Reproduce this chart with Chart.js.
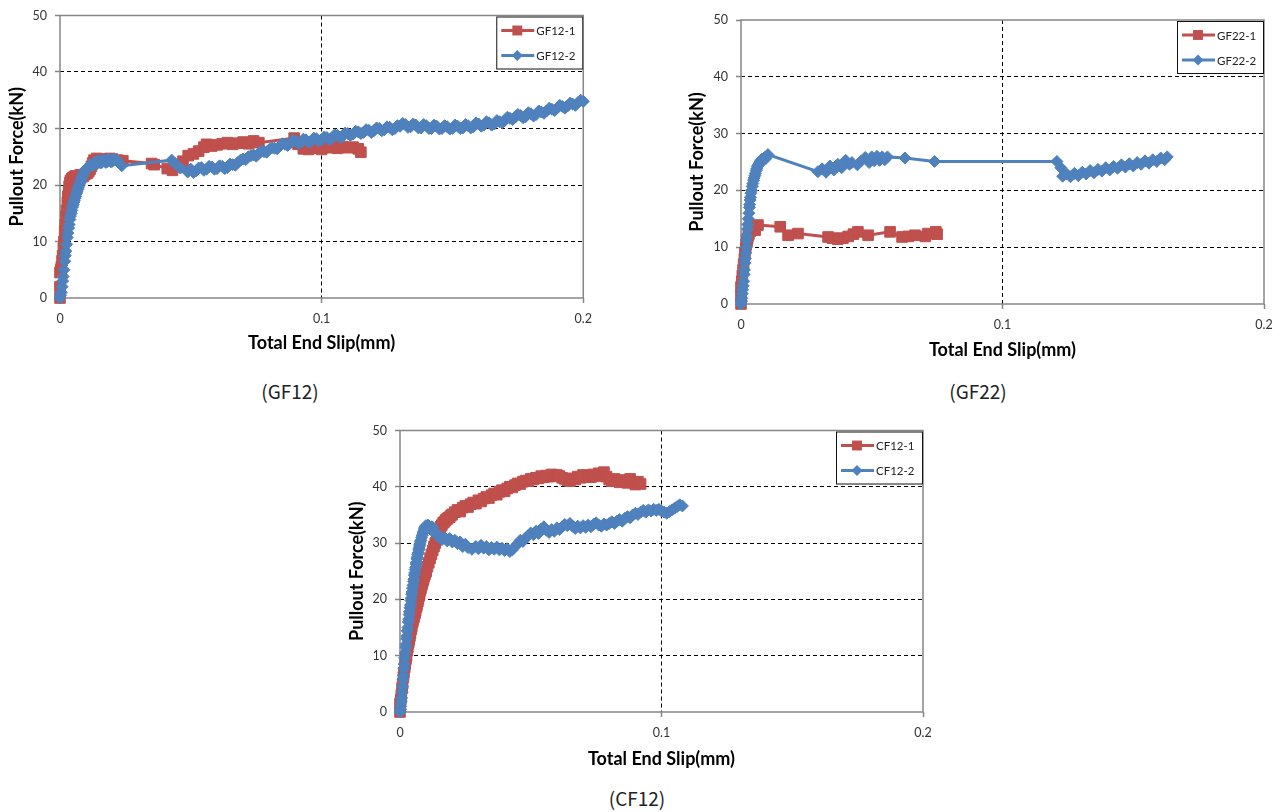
<!DOCTYPE html>
<html>
<head>
<meta charset="utf-8">
<script src="https://cdn.jsdelivr.net/npm/chart.js@4.4.1/dist/chart.umd.min.js"></script>
<style>
  html, body { margin: 0; padding: 0; background: #fff; }
  body { width: 1285px; height: 812px; position: relative; overflow: hidden; }
  .panel { position: absolute; }
  .caption {
    position: absolute;
    font-family: 'Noto Sans CJK KR', 'Noto Sans', sans-serif;
    font-size: 19px;
    color: #222;
    transform: translate(-50%, -50%);
    white-space: nowrap;
  }
</style>
</head>
<body>
<div class="panel" style="left:0px;top:0px"><canvas id="gf12" width="600" height="360"></canvas></div>
<div class="panel" style="left:680px;top:0px"><canvas id="gf22" width="605" height="372"></canvas></div>
<div class="panel" style="left:340px;top:415px"><canvas id="cf12" width="620" height="362"></canvas></div>
<div class="caption" style="left:290px;top:390px">(GF12)</div>
<div class="caption" style="left:978px;top:390px">(GF22)</div>
<div class="caption" style="left:637px;top:797px">(CF12)</div>

<script>
// axis ticks and titles
const xTicks = [0, 0.1, 0.2];
const yTicks = [0, 10, 20, 30, 40, 50];
const xTitle = 'Total End Slip(mm)';
const yTitle = 'Pullout Force(kN)';

// series labels
const gf12Names = ['GF12-1', 'GF12-2'];
const gf22Names = ['GF22-1', 'GF22-2'];
const cf12Names = ['CF12-1', 'CF12-2'];

// [slip (mm), force (kN)]
const gf12_1 = [
  [0,0],[0,2],[0,4.5],[0.0003,5],[0.0005,5.5],[0.0008,6.6],[0.001,7.5],[0.0013,8.8],[0.0015,10],
  [0.0018,11.8],[0.002,13],[0.0023,14.5],[0.0025,15.5],[0.0028,17],[0.003,18],[0.0033,19],
  [0.0035,19.8],[0.0038,20.4],[0.004,20.8],[0.0045,21.1],[0.005,21.3],[0.0055,21.5],[0.006,21.6],
  [0.0065,21.3],[0.007,21.4],[0.0075,21.7],[0.008,21.8],[0.0085,21.5],[0.009,21.6],[0.0095,21.9],
  [0.010,22],[0.0105,22.1],[0.011,22.4],[0.0115,22.8],[0.012,23.3],[0.0125,23.9],[0.013,24.4],
  [0.014,24.7],[0.015,24.5],[0.016,24.6],[0.017,24.4],[0.018,24.5],[0.019,24.7],
  [0.020,24.6],[0.022,24.4],[0.024,24.3],[0.035,23.8],[0.036,23.6],[0.041,22.9],[0.043,22.6],
  [0.045,23.2],[0.047,24.2],[0.049,25.2],[0.051,25.5],[0.053,26.0],[0.055,26.7],[0.056,27.2],
  [0.058,26.9],[0.060,27.1],[0.062,27.3],[0.064,27.5],[0.066,27.2],[0.068,27.4],[0.070,27.6],
  [0.072,27.3],[0.074,27.8],[0.076,27.5],[0.0895,28.3],[0.091,27.2],[0.093,26.4],[0.095,26.3],
  [0.097,26.5],[0.100,26.3],[0.102,26.6],[0.104,26.9],[0.106,26.5],[0.108,26.8],[0.110,26.6],
  [0.112,26.7],[0.114,26.4],[0.115,25.8]
];
const gf12_2 = [
  [0,0],[0.0002,0.5],[0.0005,1],[0.0008,2],[0.001,3],[0.0012,3.8],[0.0015,5],[0.0018,6.5],
  [0.002,7.5],[0.0022,8.3],[0.0025,9.5],[0.0028,10.7],[0.003,11.5],[0.0033,12.4],[0.0035,13],
  [0.0038,13.9],[0.004,14.5],[0.0043,15],[0.0045,15.5],[0.0048,16.1],[0.005,16.5],[0.0053,17],
  [0.0055,17.3],[0.0058,17.7],[0.006,18],[0.0063,18.5],[0.0065,18.8],[0.0068,19.2],[0.007,19.5],
  [0.0073,19.9],[0.0075,20.2],[0.0078,20.5],[0.008,20.8],[0.0083,21.2],[0.0085,21.5],[0.0088,21.8],
  [0.009,22],[0.0093,22.3],[0.0095,22.5],[0.0098,22.7],[0.010,22.8],[0.0105,23.1],[0.011,23.2],
  [0.0115,23.5],[0.012,23.6],[0.0125,23.4],[0.013,23.9],[0.0135,24.1],[0.014,23.7],[0.0145,24.3],
  [0.015,24.2],[0.0155,23.9],[0.016,24],[0.0165,24.5],[0.017,24.4],[0.0175,24],[0.018,24.1],
  [0.0185,24.6],[0.019,24.5],[0.0195,24.1],[0.020,24.2],[0.0205,24.6],[0.021,24.5],[0.022,24.3],
  [0.0236,23.4],[0.0427,24.4],[0.044,23.8],
  [0.046,23],[0.0488,22.3],[0.050,22.8],[0.051,22.2],[0.052,22.5],[0.053,23],[0.054,23.1],
  [0.055,22.6],[0.056,22.8],[0.057,23.3],[0.058,23.2],[0.059,22.8],[0.060,22.9],[0.061,23.4],
  [0.062,23.3],[0.063,22.9],[0.064,23.1],[0.065,23.7],[0.066,23.6],[0.067,23.5],[0.068,24],
  [0.069,24.4],[0.070,24.6],[0.071,24.5],[0.072,25],[0.073,25.2],[0.074,25.3],[0.075,25.1],
  [0.076,25.6],[0.077,26],[0.078,25.9],[0.079,25.8],[0.080,26.3],[0.081,26.6],[0.082,26.5],
  [0.083,26.4],[0.084,26.9],[0.085,27.3],[0.086,27.2],[0.087,27],[0.088,27.4],[0.089,27.9],
  [0.090,27.8],[0.091,27.4],[0.092,27.5],[0.093,28.1],[0.094,28],[0.095,27.6],[0.096,27.7],
  [0.097,28.3],[0.098,28.2],[0.099,27.8],[0.100,28],[0.101,28.5],[0.102,28.4],[0.103,28],
  [0.104,28.3],[0.105,28.9],[0.106,28.8],[0.107,28.4],[0.108,28.6],[0.109,29.2],[0.110,29.1],
  [0.111,28.8],[0.112,29],[0.113,29.5],[0.114,29.4],[0.115,29.1],[0.116,29.3],[0.117,29.8],
  [0.118,29.7],[0.119,29.3],[0.120,29.6],[0.121,30.1],[0.122,30],[0.123,29.6],[0.124,29.8],
  [0.125,30.3],[0.126,30.2],[0.127,29.8],[0.128,30],[0.129,30.5],[0.130,30.4],[0.131,30.9],
  [0.132,30.7],[0.133,30.2],[0.134,30.3],[0.135,30.8],[0.136,30.6],[0.137,30.1],[0.138,30.1],
  [0.139,30.7],[0.140,30.5],[0.141,30],[0.142,30],[0.143,30.6],[0.144,30.4],[0.145,29.9],
  [0.146,30],[0.147,30.5],[0.148,30.3],[0.149,29.9],[0.150,30],[0.151,30.6],[0.152,30.4],
  [0.153,30],[0.154,30.1],[0.155,30.7],[0.156,30.5],[0.157,30.1],[0.158,30.3],[0.159,31],
  [0.160,30.8],[0.161,30.4],[0.162,30.6],[0.163,31.2],[0.164,31],[0.165,30.6],[0.166,30.8],
  [0.167,31.4],[0.168,31.2],[0.169,31],[0.170,31.4],[0.171,32],[0.172,31.8],[0.173,31.6],
  [0.174,32],[0.175,32.5],[0.176,32.3],[0.177,31.9],[0.178,32.1],[0.179,32.8],[0.180,32.6],
  [0.181,32.2],[0.182,32.5],[0.183,33.1],[0.184,32.9],[0.185,32.7],[0.186,33.1],[0.187,33.6],
  [0.188,33.4],[0.189,33.2],[0.190,33.6],[0.191,34.1],[0.192,33.9],[0.193,33.6],[0.194,34],
  [0.195,34.5],[0.196,34.3],[0.197,34.1],[0.198,34.6],[0.199,35],[0.200,34.8]
];
const gf22_1 = [
  [0,0],[0,1.5],[0,3],[0.0003,4],[0.0005,5],[0.0008,6],[0.001,7],[0.0013,8],[0.0015,9],
  [0.0018,9.8],[0.002,10.5],[0.0023,11],[0.0025,11.5],[0.0028,12],[0.003,12.3],
  [0.0035,12.8],[0.004,13.2],[0.0045,13.5],[0.0054,13],[0.0065,13.9],[0.015,13.6],[0.018,12.1],
  [0.0218,12.4],[0.0333,11.8],[0.035,11.6],[0.037,11.4],[0.039,11.6],[0.041,11.9],[0.043,12.3],
  [0.0447,12.7],[0.0486,12.1],[0.057,12.7],[0.0616,11.8],[0.064,11.9],[0.0665,12.1],
  [0.0705,11.9],[0.0715,12.4],[0.0745,12.7],[0.075,12.3]
];
const gf22_2 = [
  [0,0],[0.0002,0.5],[0.0003,1],[0.0005,1.8],[0.0006,2.5],[0.0008,3.2],[0.001,4],[0.0012,5.2],
  [0.0013,6],[0.0015,7.2],[0.0016,8],[0.0018,9],[0.002,10],[0.0022,11.2],[0.0023,12],
  [0.0025,13.2],[0.0026,14],[0.0028,15],[0.003,16],[0.0032,17],[0.0033,17.5],[0.0035,18.3],
  [0.0036,18.8],[0.0038,19.5],[0.004,20],[0.0043,20.7],[0.0045,21.2],[0.0048,21.8],[0.005,22.2],
  [0.0053,22.6],[0.0055,23],[0.0058,23.5],[0.006,23.8],[0.0063,24.2],[0.0065,24.4],[0.0068,24.6],
  [0.007,24.8],[0.0073,25],[0.0075,25.2],[0.0078,25.4],[0.008,25.5],[0.0085,25.3],
  [0.009,25.8],[0.0095,25.6],[0.0103,26.3],[0.0294,23.3],[0.031,23.8],[0.0325,23.2],[0.034,24.3],
  [0.0355,23.6],[0.037,24.6],[0.0385,24],[0.040,25.3],[0.0415,24.6],[0.0424,24.9],[0.0445,24.5],
  [0.046,25.2],[0.0475,25.8],[0.049,24.9],[0.050,25.9],[0.051,25.2],[0.052,26],[0.053,25.3],
  [0.054,25.9],[0.055,25.4],[0.056,25.9],[0.0627,25.7],[0.074,25.1],[0.1208,25.1],[0.1223,24],
  [0.123,22.5],[0.1245,22.9],[0.126,22.4],[0.1275,23],[0.129,22.6],[0.1305,23.2],[0.132,22.9],
  [0.1335,23.5],[0.135,23.1],[0.1365,23.7],[0.138,23.4],[0.1395,24],[0.141,23.6],[0.1425,24.2],
  [0.144,23.9],[0.1455,24.5],[0.147,24.1],[0.1485,24.7],[0.150,24.3],[0.1515,24.9],[0.153,24.6],
  [0.1545,25.2],[0.156,24.8],[0.1575,25.4],[0.159,25.1],[0.1605,25.7],[0.162,25.4],[0.163,25.9]
];
const cf12_1 = [
  [0,0],[0,1.5],[0.0003,2.2],[0.0005,3],[0.0008,4.2],[0.001,5],[0.0013,6.2],[0.0015,7],
  [0.0018,7.9],[0.002,8.5],[0.0023,9.4],[0.0025,10],[0.0028,10.9],[0.003,11.5],[0.0033,12.3],
  [0.0035,12.8],[0.0038,13.5],[0.004,14],[0.0043,14.7],[0.0045,15.2],[0.0048,15.9],[0.005,16.3],
  [0.0053,16.8],[0.0055,17.2],[0.0058,17.6],[0.006,18],[0.0063,18.6],[0.0065,19],[0.0068,19.6],
  [0.007,20],[0.0073,20.6],[0.0075,21],[0.0078,21.6],[0.008,22],[0.0083,22.5],[0.0085,22.8],
  [0.0088,23.3],[0.009,23.6],[0.0093,24.1],[0.0095,24.4],[0.0098,24.8],[0.010,25],
  [0.0105,25.8],[0.011,26.5],[0.0115,27.3],[0.012,28],[0.0125,28.7],[0.013,29.4],[0.0135,30],
  [0.014,31],[0.0145,31.8],[0.015,32.5],[0.0155,32.9],[0.016,33.2],[0.0165,33.6],[0.017,33.8],
  [0.0175,34.1],[0.018,34.3],[0.0185,34.5],[0.019,34.6],[0.0195,34.9],
  [0.020,35.1],[0.021,35.5],[0.022,35.9],[0.023,35.6],[0.024,36.3],[0.025,36.6],[0.026,36.4],
  [0.027,36.9],[0.028,37.2],[0.029,37],[0.030,37.6],[0.031,37.4],[0.032,37.9],[0.033,38.2],
  [0.034,38],[0.035,38.5],[0.036,38.8],[0.037,38.6],[0.038,39.1],[0.039,39.4],[0.040,39.2],
  [0.041,39.7],[0.042,40],[0.043,39.9],[0.044,40.3],[0.045,40.6],[0.046,40.5],[0.047,40.9],
  [0.048,41.1],[0.049,41],[0.050,41.4],[0.051,41.3],[0.052,41.6],[0.053,41.5],[0.054,41.9],
  [0.055,41.7],[0.056,42],[0.057,41.8],[0.058,42.2],[0.059,42],[0.060,42.1],[0.061,41.9],
  [0.062,41.6],[0.063,41.4],[0.064,41.2],[0.065,41],[0.066,41.5],[0.067,41.3],[0.068,41.8],
  [0.069,41.6],[0.070,42.1],[0.071,41.8],[0.072,42],[0.073,41.7],[0.074,42.2],[0.075,41.9],
  [0.076,42.4],[0.077,42.1],[0.078,42.6],[0.079,41.8],[0.080,41.3],[0.081,41],[0.082,41.4],
  [0.083,41.1],[0.084,40.8],[0.085,41.2],[0.086,40.9],[0.087,40.7],[0.088,41.4],[0.089,40.8],
  [0.090,40.4],[0.091,40.9],[0.092,40.5]
];
const cf12_2 = [
  [0,0],[0.0002,0.5],[0.0003,1],[0.0005,1.8],[0.0006,2.5],[0.0008,3.5],[0.001,4.5],[0.0012,5.7],
  [0.0013,6.5],[0.0015,7.7],[0.0016,8.5],[0.0018,9.6],[0.002,10.5],[0.0022,11.5],[0.0023,12],
  [0.0025,13],[0.0026,13.5],[0.0028,14.4],[0.003,15],[0.0032,16],[0.0033,16.5],[0.0035,17.3],
  [0.0036,17.8],[0.0038,18.5],[0.004,19],[0.0042,19.8],[0.0043,20.2],[0.0045,20.9],[0.0046,21.3],
  [0.0048,22],[0.005,22.5],[0.0052,23.2],[0.0053,23.6],[0.0055,24.3],[0.0056,24.7],[0.0058,25.3],
  [0.006,25.7],[0.0062,26.3],[0.0063,26.6],[0.0065,27.2],[0.0066,27.5],[0.0068,28],[0.007,28.3],
  [0.0072,28.8],[0.0073,29.1],[0.0075,29.5],[0.0076,29.8],[0.0078,30.2],[0.008,30.5],
  [0.0083,31],[0.0085,31.4],[0.0088,31.8],[0.009,32.1],[0.0093,32.5],[0.0095,32.8],[0.0099,33.1],
  [0.0103,32.6],[0.0107,33.2],[0.011,33],[0.0114,32.6],[0.0118,32.4],[0.0122,32.9],[0.0125,32.8],
  [0.013,32.2],[0.0135,31.9],[0.014,31.6],[0.0145,31.2],[0.015,31],[0.016,30.6],
  [0.017,31],[0.018,30.4],[0.019,30.8],[0.020,30.2],[0.021,30.5],[0.022,29.9],[0.023,30.2],
  [0.024,29.4],[0.025,29.8],[0.026,29.2],[0.0275,28.9],[0.029,29.4],[0.030,29],[0.031,29.6],
  [0.032,29.1],[0.033,29.4],[0.034,28.8],[0.035,29.2],[0.036,28.9],[0.037,29.3],[0.038,28.8],
  [0.039,29.1],[0.040,28.7],[0.041,29],[0.042,28.5],[0.043,28.8],[0.044,29.4],[0.045,29.9],
  [0.046,30.5],[0.047,30.3],[0.048,30.9],[0.049,31.3],[0.050,31.8],[0.051,31.5],[0.052,32.1],
  [0.053,31.7],[0.054,32.5],[0.055,32.9],[0.056,32.3],[0.057,31.9],[0.058,32.4],[0.059,32.1],
  [0.060,32.7],[0.061,32.4],[0.062,32.9],[0.063,33.3],[0.064,33.1],[0.065,33.5],[0.066,33],
  [0.067,32.6],[0.068,33],[0.069,32.7],[0.070,33.1],[0.071,32.8],[0.072,33.2],[0.073,32.9],
  [0.074,33.3],[0.075,33.6],[0.076,33.2],[0.077,33],[0.078,33.4],[0.079,33.2],[0.080,33.5],
  [0.081,33.8],[0.082,33.5],[0.083,33.9],[0.084,34.2],[0.085,33.9],[0.086,34.4],[0.087,34.7],
  [0.088,34.5],[0.089,35],[0.090,35.3],[0.091,35.1],[0.092,35.5],[0.093,35.8],[0.094,35.5],
  [0.095,35.9],[0.096,35.7],[0.097,36],[0.098,35.8],[0.099,36],[0.100,35.7],[0.101,35.5],
  [0.102,35.3],[0.103,35.6],[0.104,35.9],[0.105,36.2],[0.106,36.5],[0.107,36.8],[0.108,36.6]
];

const RED = '#C0504D';
const BLUE = '#4F81BD';
const AXIS_GRAY = '#868686';

Chart.defaults.font.family = 'Lato, "Liberation Sans", sans-serif';
Chart.defaults.color = '#333';

// solid frame around the plot area (Excel style)
const framePlugin = {
  id: 'frame',
  beforeDatasetsDraw(chart) {
    const { ctx, chartArea: a } = chart;
    ctx.save();
    ctx.strokeStyle = AXIS_GRAY;
    ctx.lineWidth = 1.5;
    ctx.strokeRect(a.left, a.top, a.right - a.left, a.bottom - a.top);
    ctx.restore();
  }
};

function drawMarker(ctx, style, x, y, r, color) {
  ctx.fillStyle = color;
  ctx.beginPath();
  if (style === 'rect') {
    const s = r * Math.SQRT1_2;
    ctx.rect(x - s, y - s, 2 * s, 2 * s);
  } else {
    ctx.moveTo(x - r, y);
    ctx.lineTo(x, y - r);
    ctx.lineTo(x + r, y);
    ctx.lineTo(x, y + r);
    ctx.closePath();
  }
  ctx.fill();
}

// boxed legend inside the plot, top right
const boxLegend = {
  id: 'boxLegend',
  afterDraw(chart) {
    const { ctx, chartArea: a } = chart;
    const w = 87, h = 53;
    const bx = a.right - w, by = a.top + 1;
    ctx.save();
    ctx.fillStyle = '#fff';
    ctx.fillRect(bx, by, w, h);
    ctx.strokeStyle = '#111';
    ctx.lineWidth = 1;
    ctx.strokeRect(bx + 0.5, by + 0.5, w - 1, h - 1);
    chart.data.datasets.forEach((ds, i) => {
      const yy = by + 14 + i * 25;
      ctx.strokeStyle = ds.borderColor;
      ctx.lineWidth = 3;
      ctx.beginPath();
      ctx.moveTo(bx + 5, yy);
      ctx.lineTo(bx + 38, yy);
      ctx.stroke();
      drawMarker(ctx, ds.pointStyle, bx + 21, yy, ds.pointRadius - 0.5, ds.backgroundColor);
      ctx.fillStyle = '#222';
      ctx.font = '11.5px Lato, "Liberation Sans", sans-serif';
      ctx.textBaseline = 'middle';
      ctx.textAlign = 'left';
      ctx.fillText(ds.label, bx + 40, yy + 1);
    });
    ctx.restore();
  }
};

function toXY(arr) {
  return arr.map(p => ({ x: p[0], y: p[1] }));
}

function drawPanel(id, names, s1, s2, box) {
  const xMax = xTicks[xTicks.length - 1];
  const yMax = yTicks[yTicks.length - 1];
  new Chart(document.getElementById(id), {
    type: 'line',
    data: {
      datasets: [
        {
          label: names[0],
          data: toXY(s1),
          borderColor: RED,
          backgroundColor: RED,
          borderWidth: 3,
          pointStyle: 'rect',
          pointRadius: 7.5,
          pointBorderWidth: 1,
          tension: 0,
          clip: false,
          order: 2
        },
        {
          label: names[1],
          data: toXY(s2),
          borderColor: BLUE,
          backgroundColor: BLUE,
          borderWidth: 3,
          pointStyle: 'rectRot',
          pointRadius: 6,
          pointBorderWidth: 1,
          tension: 0,
          clip: false,
          order: 1
        }
      ]
    },
    options: {
      responsive: false,
      animation: false,
      devicePixelRatio: 1,
      events: [],
      layout: { padding: { top: box.top, right: box.right, left: 0, bottom: 0 } },
      plugins: {
        legend: { display: false },
        tooltip: { enabled: false }
      },
      scales: {
        x: {
          type: 'linear',
          min: 0,
          max: xMax,
          afterFit: s => { s.height = box.xh; },
          afterBuildTicks: s => { s.ticks = xTicks.map(v => ({ value: v })); },
          ticks: { font: { size: 12.5 }, color: '#333', padding: 8, maxRotation: 0, callback: v => String(v) },
          grid: {
            color: c => (c.tick && (c.tick.value === 0 || c.tick.value === xMax)) ? 'rgba(0,0,0,0)' : '#000',
            lineWidth: 1,
            tickLength: 5,
            tickColor: AXIS_GRAY,
            tickWidth: 1.5
          },
          border: { display: false, dash: [4, 3] },
          title: {
            display: true,
            text: xTitle,
            color: '#000',
            font: { size: 18, weight: 'bold' },
            padding: { top: 0, bottom: box.xtp }
          }
        },
        y: {
          min: 0,
          max: yMax,
          afterFit: s => { s.width = box.yw; },
          afterBuildTicks: s => { s.ticks = yTicks.map(v => ({ value: v })); },
          ticks: { font: { size: 12.5 }, color: '#333', padding: 8 },
          grid: {
            color: c => (c.tick && (c.tick.value === 0 || c.tick.value === yMax)) ? 'rgba(0,0,0,0)' : '#000',
            lineWidth: 1,
            tickLength: 5,
            tickColor: AXIS_GRAY,
            tickWidth: 1.5
          },
          border: { display: false, dash: [4, 3] },
          title: {
            display: true,
            text: yTitle,
            color: '#000',
            font: { size: 18, weight: 'bold' },
            padding: { top: 6, bottom: 0 }
          }
        }
      }
    },
    plugins: [framePlugin, boxLegend]
  });
}

drawPanel('gf12', gf12Names, gf12_1, gf12_2, { top: 13, right: 15, yw: 60, xh: 62, xtp: 6 });
drawPanel('gf22', gf22Names, gf22_1, gf22_2, { top: 20, right: 21, yw: 61, xh: 68, xtp: 11 });
drawPanel('cf12', cf12Names, cf12_1, cf12_2, { top: 13, right: 37, yw: 60, xh: 65, xtp: 7 });
</script>
</body>
</html>
